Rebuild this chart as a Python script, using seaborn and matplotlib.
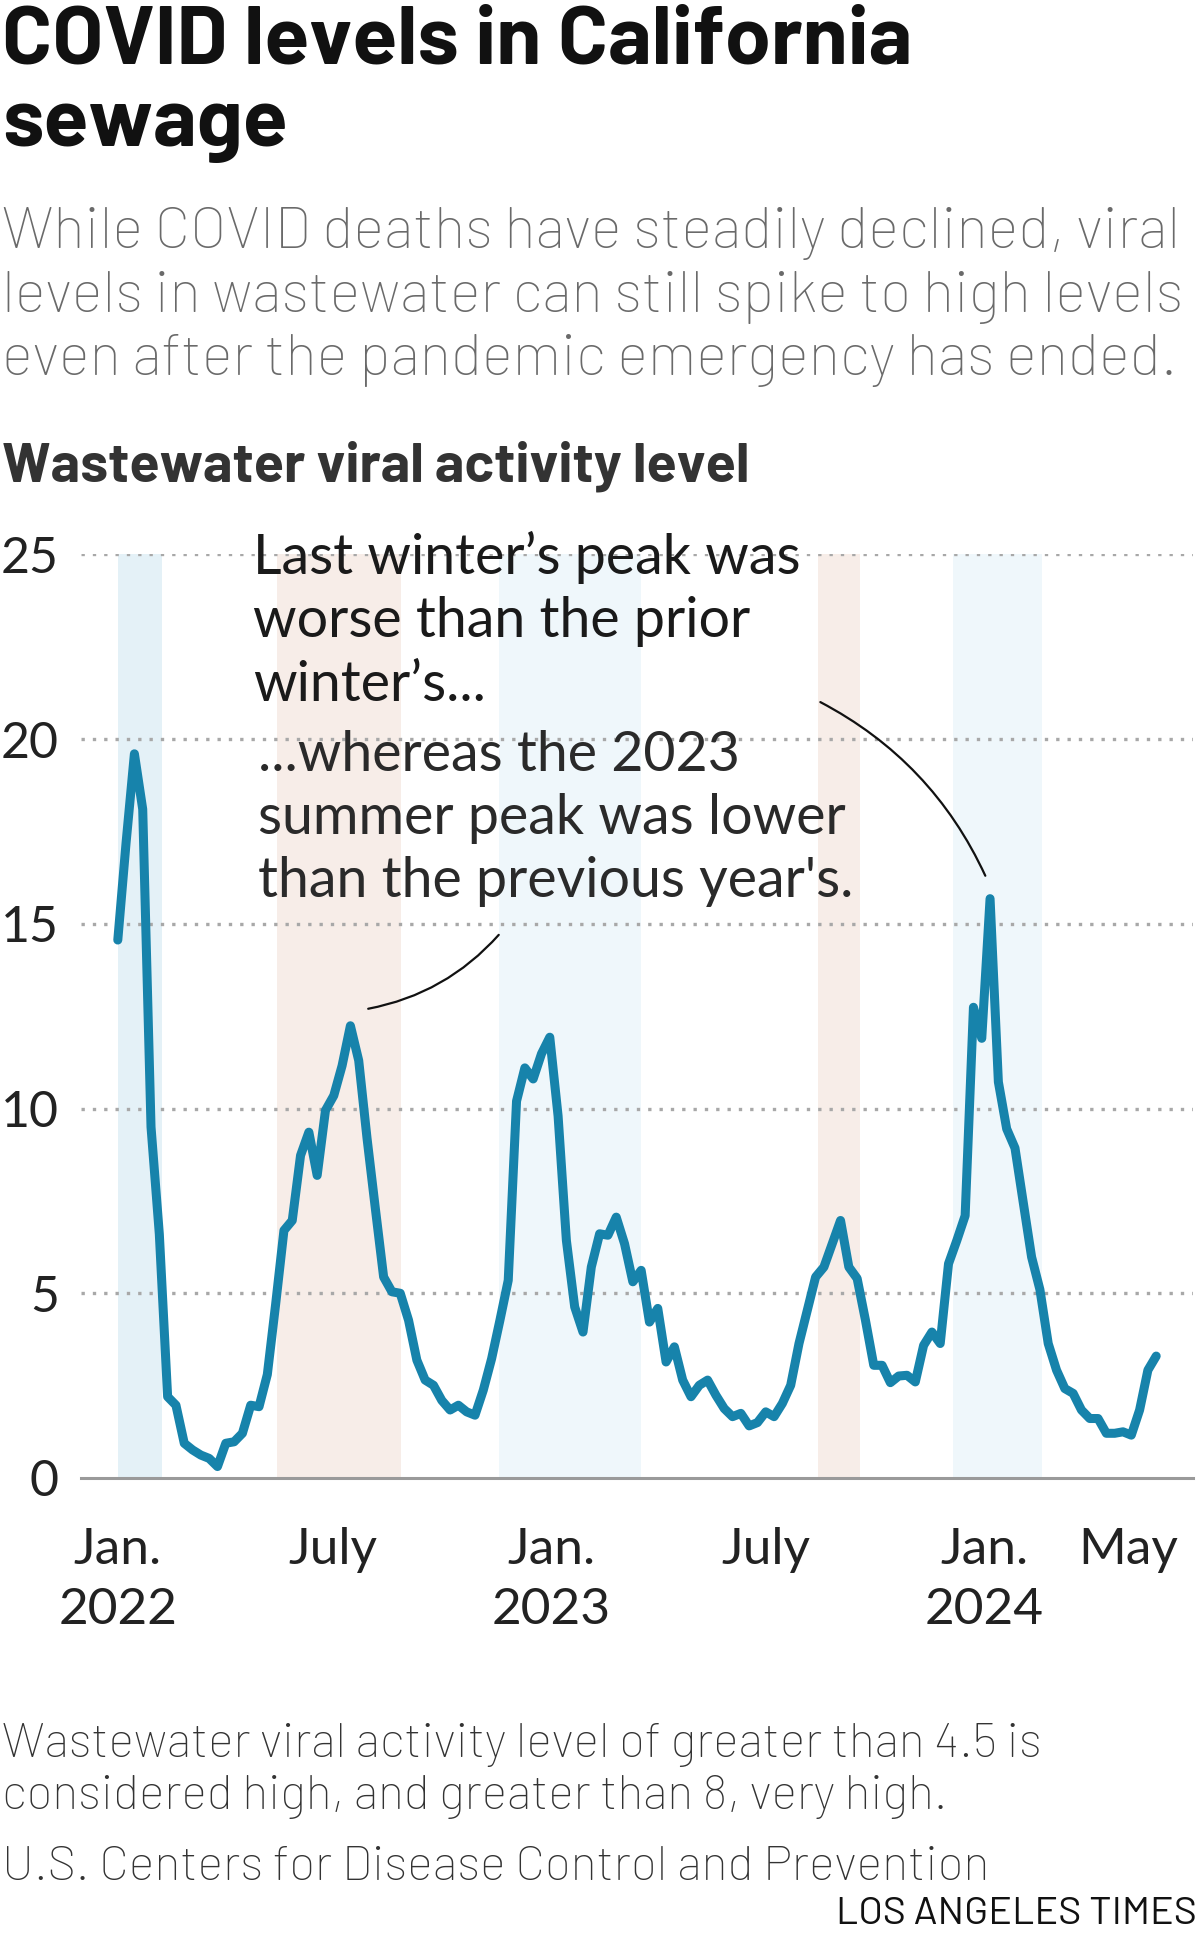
import pandas as pd
import numpy as np
import matplotlib
matplotlib.use('Agg')
import matplotlib.pyplot as plt
import seaborn as sns

# >> Weekly wastewater viral activity level, California (CDC)
first_week = '2022-01-01'
levels = [14.56, 17.2, 19.6, 18.1, 9.5, 6.6, 2.2, 1.97, 0.94, 0.76,
          0.62, 0.53, 0.31, 0.94, 0.98, 1.21, 1.97, 1.93, 2.8, 4.7,
          6.7, 6.97, 8.73, 9.36, 8.19, 9.95, 10.35, 11.16, 12.24, 11.3,
          9.2, 7.3, 5.44, 5.04, 5.0, 4.27, 3.19, 2.65, 2.51, 2.1,
          1.84, 1.97, 1.79, 1.7, 2.38, 3.23, 4.27, 5.35, 10.2, 11.1,
          10.8, 11.48, 11.93, 9.8, 6.43, 4.63, 3.95, 5.71, 6.61, 6.57,
          7.06, 6.34, 5.31, 5.62, 4.22, 4.59, 3.14, 3.55, 2.65, 2.2,
          2.51, 2.65, 2.24, 1.88, 1.66, 1.75, 1.41, 1.5, 1.79, 1.66,
          2.02, 2.51, 3.64, 4.54, 5.44, 5.71, 6.34, 6.97, 5.71, 5.4,
          4.27, 3.05, 3.05, 2.58, 2.76, 2.78, 2.6, 3.59, 3.95, 3.64,
          5.8, 6.43, 7.1, 12.74, 11.9, 15.68, 10.72, 9.45, 8.93, 7.45,
          5.98, 5.1, 3.64, 2.92, 2.42, 2.29, 1.84, 1.61, 1.61, 1.21,
          1.21, 1.25, 1.16, 1.84, 2.92, 3.3]

# shaded seasons
band_starts = ['2022-01-01', '2022-05-15', '2022-11-18', '2023-08-14', '2023-12-06']
band_ends = ['2022-02-07', '2022-08-28', '2023-03-18', '2023-09-18', '2024-02-19']
band_colors = ['#e4f1f7', '#f7ede8', '#eff7fb', '#f7ede8', '#eff7fb']

tick_dates = ['2022-01-01', '2022-07-01', '2023-01-01', '2023-07-01', '2024-01-01', '2024-05-01']
tick_labels = ['Jan.\n2022', 'July', 'Jan.\n2023', 'July', 'Jan.\n2024', 'May']
grid_levels = [5, 10, 15, 20, 25]

df = pd.DataFrame({'date': pd.date_range(first_week, periods=len(levels), freq='7D'),
                   'level': levels})

W, H = 1200, 1943
sns.set_style('white')
plt.rcParams['font.family'] = ['Lato', 'DejaVu Sans']
head = ['Barlow', 'Barlow Semi Condensed', 'DejaVu Sans']


def px(x, y):
    return x / W, 1 - y / H


fig = plt.figure(figsize=(W / 100, H / 100), dpi=100)
ax = fig.add_axes([81 / W, 1 - 1478 / H, (1193 - 81) / W, (1478 - 554.3) / H])

for s, e, c in zip(band_starts, band_ends, band_colors):
    ax.axvspan(pd.Timestamp(s), pd.Timestamp(e), color=c, lw=0, zorder=0)

for g in grid_levels:
    ax.axhline(g, color='#a8a8a8', lw=2.4, ls=(0, (1, 2.4)), zorder=1)

sns.lineplot(data=df, x='date', y='level', ax=ax, color='#1783ab', linewidth=6.5,
             solid_joinstyle='round', solid_capstyle='round', zorder=3)

ax.set_xlim(pd.Timestamp('2021-12-01'), pd.Timestamp('2024-06-25'))
ax.set_ylim(0, 25)
ax.set_xticks([pd.Timestamp(d) for d in tick_dates])
ax.set_xticklabels(tick_labels, fontsize=37, color='#222222', linespacing=1.4)
ax.set_yticks([0] + grid_levels)
ax.set_yticklabels([str(v) for v in [0] + grid_levels], fontsize=36, color='#222222')
ax.tick_params(axis='x', length=13, width=2.2, color='#9a9a9a', pad=22)
ax.tick_params(axis='y', length=0, pad=16)
ax.set_xlabel('')
ax.set_ylabel('')
for side in ['top', 'right', 'left']:
    ax.spines[side].set_visible(False)
ax.spines['bottom'].set_color('#9a9a9a')
ax.spines['bottom'].set_linewidth(2.2)

# annotations
ax.text(pd.Timestamp('2022-04-25'), 23.2, 'Last winter\u2019s peak was\nworse than the prior\nwinter\u2019s...',
        fontsize=40, color='#1a1a1a', va='center', ha='left', linespacing=1.3, zorder=4)
ax.text(pd.Timestamp('2022-04-29'), 17.85, '...whereas the 2023\nsummer peak was lower\nthan the previous year\'s.',
        fontsize=40, color='#2a2a2a', va='center', ha='left', linespacing=1.3, zorder=4)
ax.annotate('', xy=(pd.Timestamp('2022-11-18'), 14.7), xytext=(pd.Timestamp('2022-07-31'), 12.7),
            arrowprops=dict(arrowstyle='-', color='#111111', lw=1.6, shrinkA=0, shrinkB=0,
                            connectionstyle='arc3,rad=0.17'))
ax.annotate('', xy=(pd.Timestamp('2024-01-02'), 16.3), xytext=(pd.Timestamp('2023-08-16'), 21.0),
            arrowprops=dict(arrowstyle='-', color='#111111', lw=1.6, shrinkA=0, shrinkB=0,
                            connectionstyle='arc3,rad=-0.17'))

# titles and notes
fig.text(*px(2, 6), 'COVID levels in California\nsewage', fontsize=59.5, weight='bold',
         family=head, color='#111111', va='top', ha='left', linespacing=1.13)
fig.text(*px(2, 207), 'While COVID deaths have steadily declined, viral\n'
         'levels in wastewater can still spike to high levels\n'
         'even after the pandemic emergency has ended.',
         fontsize=42, weight='light', family=head, color='#6a6a6a', va='top', ha='left',
         linespacing=1.26)
fig.text(*px(2, 440), 'Wastewater viral activity level', fontsize=40, weight='bold',
         family=head, color='#333333', va='top', ha='left')
fig.text(*px(2, 1723), 'Wastewater viral activity level of greater than 4.5 is\n'
         'considered high, and greater than 8, very high.',
         fontsize=34.8, weight='light', family=head, color='#333333', va='top', ha='left',
         linespacing=1.23)
fig.text(*px(2, 1846), 'U.S. Centers for Disease Control and Prevention',
         fontsize=35, weight='light', family=head, color='#333333', va='top', ha='left')
fig.text(*px(1197, 1897), 'LOS ANGELES TIMES', fontsize=28.3, family=head,
         color='#111111', va='top', ha='right')

fig.savefig('out.png', dpi=100)
